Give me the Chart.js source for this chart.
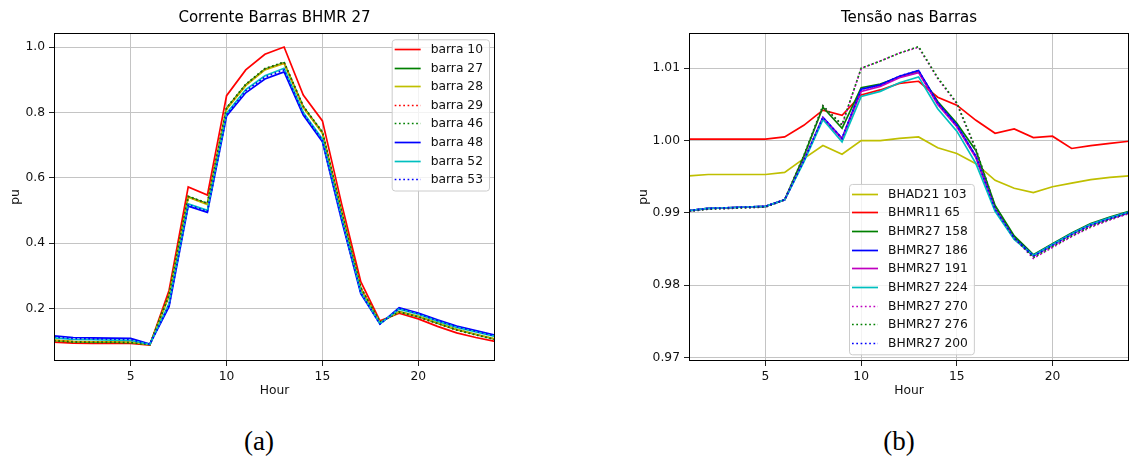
<!DOCTYPE html>
<html>
<head>
<meta charset="utf-8">
<script src="https://cdn.jsdelivr.net/npm/chart.js@4.4.1/dist/chart.umd.min.js"></script>
<style>
  html, body { margin: 0; padding: 0; background: #fff; }
  #wrap { position: relative; width: 1129px; height: 459px; overflow: hidden; }
  #cLeft { position: absolute; left: 0; top: 0; }
  #cRight { position: absolute; left: 620px; top: 0; }
  .cap { position: absolute; font-family: "Liberation Serif", "DejaVu Serif", serif; font-size: 27px;
         color: #000; transform: translate(-50%, -50%); white-space: nowrap; }
</style>
</head>
<body>
<div id="wrap">
  <canvas id="cLeft" width="510" height="400"></canvas>
  <canvas id="cRight" width="509" height="400"></canvas>
  <div class="cap" style="left:259px; top:441px">(a)</div>
  <div class="cap" style="left:899px; top:441px">(b)</div>
</div>
<script>
// horas
const hours = [1, 2, 3, 4, 5, 6, 7, 8, 9, 10, 11, 12, 13, 14, 15, 16, 17, 18, 19, 20, 21, 22, 23, 24];
const hourTicks = [5, 10, 15, 20];

// (a) corrente
const barra10 = [0.097, 0.094, 0.093, 0.093, 0.093, 0.088, 0.255, 0.572, 0.547, 0.851, 0.930, 0.978, 1.000, 0.853, 0.774, 0.520, 0.282, 0.162, 0.185, 0.168, 0.145, 0.125, 0.111, 0.099];
const barra27 = [0.102, 0.098, 0.097, 0.097, 0.096, 0.089, 0.240, 0.542, 0.520, 0.812, 0.884, 0.932, 0.952, 0.817, 0.738, 0.495, 0.262, 0.157, 0.190, 0.175, 0.155, 0.135, 0.120, 0.106];
const barra28 = [0.103, 0.099, 0.098, 0.098, 0.097, 0.089, 0.238, 0.540, 0.518, 0.810, 0.882, 0.930, 0.950, 0.815, 0.736, 0.494, 0.261, 0.157, 0.190, 0.176, 0.156, 0.136, 0.121, 0.107];
const barra29 = [0.102, 0.098, 0.097, 0.097, 0.096, 0.089, 0.240, 0.542, 0.521, 0.813, 0.885, 0.933, 0.953, 0.818, 0.739, 0.496, 0.263, 0.157, 0.189, 0.174, 0.154, 0.134, 0.119, 0.105];
const barra46 = [0.101, 0.097, 0.096, 0.096, 0.095, 0.089, 0.241, 0.543, 0.522, 0.814, 0.886, 0.934, 0.954, 0.819, 0.740, 0.497, 0.264, 0.158, 0.189, 0.174, 0.154, 0.134, 0.119, 0.105];
const barra48 = [0.116, 0.111, 0.110, 0.109, 0.108, 0.091, 0.205, 0.513, 0.494, 0.789, 0.860, 0.902, 0.924, 0.792, 0.710, 0.470, 0.245, 0.152, 0.202, 0.186, 0.165, 0.146, 0.132, 0.118];
const barra52 = [0.110, 0.105, 0.104, 0.103, 0.102, 0.090, 0.215, 0.520, 0.500, 0.797, 0.870, 0.912, 0.935, 0.800, 0.718, 0.478, 0.250, 0.153, 0.198, 0.182, 0.161, 0.142, 0.128, 0.114];
const barra53 = [0.113, 0.108, 0.107, 0.106, 0.105, 0.090, 0.210, 0.517, 0.497, 0.793, 0.866, 0.908, 0.930, 0.796, 0.714, 0.474, 0.248, 0.152, 0.200, 0.184, 0.163, 0.144, 0.130, 0.116];
const currentTicks = [0.2, 0.4, 0.6, 0.8, 1.0];

// (b) tensão
const bhad21_103 = [0.9951, 0.9953, 0.9953, 0.9953, 0.9953, 0.9956, 0.9975, 0.9993, 0.9981, 1.0000, 1.0000, 1.0003, 1.0005, 0.9990, 0.9982, 0.9968, 0.9945, 0.9934, 0.9928, 0.9936, 0.9941, 0.9946, 0.9949, 0.9951];
const bhmr11_65  = [1.0002, 1.0002, 1.0002, 1.0002, 1.0002, 1.0005, 1.0021, 1.0042, 1.0035, 1.0063, 1.0070, 1.0079, 1.0082, 1.0060, 1.0049, 1.0028, 1.0010, 1.0016, 1.0004, 1.0006, 0.9989, 0.9993, 0.9996, 0.9999];
const bhmr27_158 = [0.9903, 0.9906, 0.9907, 0.9908, 0.9909, 0.9918, 0.9978, 1.0046, 1.0017, 1.0073, 1.0078, 1.0088, 1.0095, 1.0054, 1.0024, 0.9986, 0.9910, 0.9868, 0.9842, 0.9857, 0.9872, 0.9885, 0.9894, 0.9902];
const bhmr27_186 = [0.9903, 0.9906, 0.9907, 0.9908, 0.9909, 0.9918, 0.9972, 1.0032, 1.0003, 1.0071, 1.0077, 1.0089, 1.0097, 1.0052, 1.0021, 0.9978, 0.9905, 0.9865, 0.9841, 0.9856, 0.9871, 0.9884, 0.9893, 0.9901];
const bhmr27_191 = [0.9903, 0.9906, 0.9907, 0.9908, 0.9909, 0.9918, 0.9972, 1.0031, 1.0002, 1.0068, 1.0075, 1.0087, 1.0094, 1.0050, 1.0019, 0.9976, 0.9904, 0.9864, 0.9840, 0.9855, 0.9870, 0.9883, 0.9892, 0.9900];
const bhmr27_224 = [0.9903, 0.9906, 0.9907, 0.9908, 0.9909, 0.9918, 0.9970, 1.0029, 0.9998, 1.0061, 1.0068, 1.0080, 1.0088, 1.0044, 1.0013, 0.9968, 0.9902, 0.9863, 0.9841, 0.9856, 0.9871, 0.9884, 0.9893, 0.9901];
const bhmr27_270 = [0.9902, 0.9905, 0.9906, 0.9907, 0.9908, 0.9918, 0.9978, 1.0048, 1.0021, 1.0100, 1.0110, 1.0121, 1.0129, 1.0086, 1.0051, 0.9987, 0.9908, 0.9865, 0.9837, 0.9852, 0.9867, 0.9880, 0.9890, 0.9899];
const bhmr27_276 = [0.9902, 0.9905, 0.9906, 0.9907, 0.9908, 0.9918, 0.9979, 1.0048, 1.0022, 1.0100, 1.0110, 1.0121, 1.0130, 1.0087, 1.0052, 0.9988, 0.9909, 0.9866, 0.9838, 0.9853, 0.9868, 0.9881, 0.9891, 0.9900];
const bhmr27_200 = [0.9903, 0.9906, 0.9907, 0.9908, 0.9909, 0.9918, 0.9972, 1.0032, 1.0003, 1.0071, 1.0077, 1.0089, 1.0097, 1.0052, 1.0021, 0.9978, 0.9905, 0.9865, 0.9840, 0.9855, 0.9870, 0.9883, 0.9892, 0.9900];
const voltageTicks = [0.97, 0.98, 0.99, 1.00, 1.01];

// cores estilo matplotlib
const C = { r: '#ff0000', g: '#008000', b: '#0000ff', c: '#00bfbf', m: '#bf00bf', y: '#bfbf00' };
const DOT = [1.7, 2.6];
const FONT = '"DejaVu Sans", sans-serif';
const TXT = '#111';

Chart.defaults.font.family = FONT;
Chart.defaults.font.size = 12.3;
Chart.defaults.color = TXT;

function series(label, data, color, dash) {
  return { label, data, borderColor: color, backgroundColor: color, borderWidth: 1.7,
           borderDash: dash || [], borderCapStyle: 'butt', pointRadius: 0, tension: 0, fill: false };
}

// moldura (spines de cima e da direita)
const framePlugin = {
  id: 'frame',
  afterDatasetsDraw(chart) {
    const { ctx, chartArea: a } = chart;
    ctx.save();
    ctx.strokeStyle = '#000';
    ctx.lineWidth = 1;
    ctx.strokeRect(a.left + 0.5, a.top + 0.5, a.right - a.left - 1, a.bottom - a.top - 1);
    ctx.restore();
  }
};

// legenda dentro do gráfico, como no matplotlib
const boxLegend = {
  id: 'boxLegend',
  afterDraw(chart, _, opts) {
    const { ctx, chartArea: a } = chart;
    const sets = chart.data.datasets;
    const rowH = opts.rowH || 18.6;
    ctx.save();
    ctx.font = '12.3px ' + FONT;
    const textW = Math.max(...sets.map(d => ctx.measureText(d.label).width));
    const w = 3 + 26 + 10 + textW + 6;
    const h = 9.7 + (sets.length - 1) * rowH + 11.3;
    const x = opts.anchor === 'topright' ? a.right - opts.dx - w : a.left + opts.dx;
    const y = opts.anchor === 'topright' ? a.top + opts.dy : a.bottom - opts.dy - h;
    ctx.beginPath();
    if (ctx.roundRect) ctx.roundRect(x + 0.5, y + 0.5, w, h, 3); else ctx.rect(x + 0.5, y + 0.5, w, h);
    ctx.fillStyle = 'rgba(255,255,255,0.8)';
    ctx.fill();
    ctx.strokeStyle = '#cccccc';
    ctx.lineWidth = 1;
    ctx.stroke();
    sets.forEach((d, i) => {
      const cy = Math.round(y + 9.7 + i * rowH) + 0.5;
      ctx.beginPath();
      ctx.setLineDash(d.borderDash || []);
      ctx.strokeStyle = d.borderColor;
      ctx.lineWidth = d.borderWidth;
      ctx.moveTo(x + 3, cy);
      ctx.lineTo(x + 29, cy);
      ctx.stroke();
      ctx.setLineDash([]);
      ctx.fillStyle = TXT;
      ctx.textBaseline = 'middle';
      ctx.textAlign = 'left';
      ctx.fillText(d.label, x + 39, cy);
    });
    ctx.restore();
  }
};

function makeChart(id, cfg) {
  const sets = cfg.datasets.map((d, i, arr) => Object.assign(d, { order: arr.length - i }));
  return new Chart(document.getElementById(id), {
    type: 'line',
    data: { labels: hours, datasets: sets },
    options: {
      responsive: false,
      animation: false,
      layout: { padding: { left: cfg.padLeft, right: cfg.padRight, top: 0, bottom: 2 } },
      plugins: {
        legend: { display: false },
        tooltip: { enabled: false },
        title: { display: true, text: cfg.title, fullSize: false, color: '#000',
                 font: { size: 15, weight: 'normal' }, padding: { top: 9.5, bottom: 5.5 } },
        boxLegend: cfg.legend
      },
      scales: {
        x: {
          type: 'linear', min: 1, max: 24,
          afterBuildTicks: s => { s.ticks = hourTicks.map(v => ({ value: v })); },
          afterFit: s => { s.height = 37; },
          ticks: { padding: 3, color: TXT, callback: v => String(v) },
          grid: { color: '#c4c4c4', lineWidth: 1, tickColor: '#222', tickLength: 5, tickWidth: 1 },
          border: { display: false },
          title: { display: true, text: 'Hour', color: TXT, padding: { top: 0, bottom: 0 } }
        },
        y: {
          min: cfg.yMin, max: cfg.yMax,
          afterBuildTicks: s => { s.ticks = cfg.yTicks.map(v => ({ value: v })); },
          afterFit: s => { s.width = cfg.yWidth; },
          ticks: { padding: 4, color: TXT, callback: v => v.toFixed(cfg.dec) },
          grid: { color: '#c4c4c4', lineWidth: 1, tickColor: '#222', tickLength: 5, tickWidth: 1 },
          border: { display: false },
          title: { display: true, text: 'pu', color: TXT, padding: { top: 0, bottom: 0 } }
        }
      }
    },
    plugins: [framePlugin, boxLegend]
  });
}

makeChart('cLeft', {
  title: 'Corrente Barras BHMR 27',
  padLeft: 8, padRight: 15, yWidth: 46,
  yMin: 0.039, yMax: 1.043, yTicks: currentTicks, dec: 1,
  legend: { anchor: 'topright', dx: 6, dy: 6.3, rowH: 18.6 },
  datasets: [
    series('barra 10', barra10, C.r),
    series('barra 27', barra27, C.g),
    series('barra 28', barra28, C.y),
    series('barra 29', barra29, C.r, DOT),
    series('barra 46', barra46, C.g, DOT),
    series('barra 48', barra48, C.b),
    series('barra 52', barra52, C.c),
    series('barra 53', barra53, C.b, DOT)
  ]
});

makeChart('cRight', {
  title: 'Tensão nas Barras',
  padLeft: 16, padRight: 0, yWidth: 53,
  yMin: 0.96949, yMax: 1.01488, yTicks: voltageTicks, dec: 2,
  legend: { anchor: 'bottomleft', dx: 160, dy: 6.7, rowH: 18.67 },
  datasets: [
    series('BHAD21 103', bhad21_103, C.y),
    series('BHMR11 65', bhmr11_65, C.r),
    series('BHMR27 158', bhmr27_158, C.g),
    series('BHMR27 186', bhmr27_186, C.b),
    series('BHMR27 191', bhmr27_191, C.m),
    series('BHMR27 224', bhmr27_224, C.c),
    series('BHMR27 270', bhmr27_270, C.m, DOT),
    series('BHMR27 276', bhmr27_276, C.g, DOT),
    series('BHMR27 200', bhmr27_200, C.b, DOT)
  ]
});
</script>
</body>
</html>
